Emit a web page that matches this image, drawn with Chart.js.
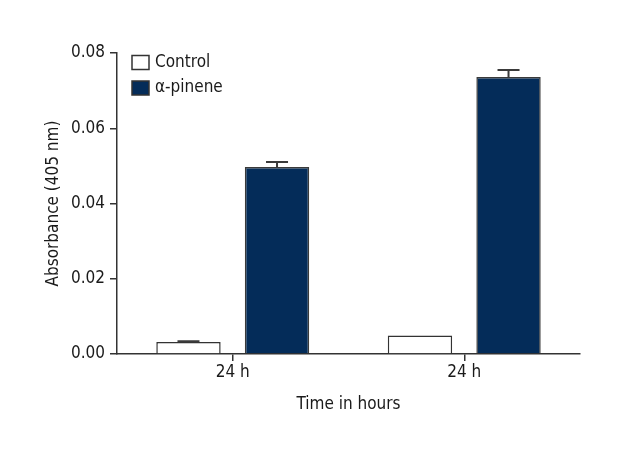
<!DOCTYPE html>
<html>
<head>
<meta charset="utf-8">
<script src="https://cdn.jsdelivr.net/npm/chart.js@4.4.1/dist/chart.umd.min.js"></script>
<style>
  html, body { margin: 0; padding: 0; background: #ffffff; }
  #wrap { width: 620px; height: 460px; }
</style>
</head>
<body>
<div id="wrap"><canvas id="c" width="620" height="460"></canvas></div>
<script>
const categories = ['24 h', '24 h'];
const seriesNames = ['Control', 'α-pinene'];
const controlValues = [0.0032, 0.0049];
const controlErrors = [0.0002, 0.0];
const pineneValues = [0.0497, 0.0736];
const pineneErrors = [0.0013, 0.0019];
const yTicks = [0.00, 0.02, 0.04, 0.06, 0.08];

const FONT = "'DejaVu Sans Condensed', 'Liberation Sans Narrow', 'DejaVu Sans', sans-serif";
const STRETCH = 'condensed';
const FS = 17;
const AXIS = '#333333';
const NAVY = '#042c59';

const errorBars = {
  id: 'errorBars',
  afterDatasetsDraw(chart) {
    const ctx = chart.ctx;
    const y = chart.scales.y;
    chart.data.datasets.forEach((ds, di) => {
      const meta = chart.getDatasetMeta(di);
      meta.data.forEach((bar, i) => {
        const err = ds.errors[i];
        if (!err) return;
        const v = ds.data[i];
        const yTop = y.getPixelForValue(v + err);
        const yBase = y.getPixelForValue(v);
        ctx.save();
        ctx.strokeStyle = '#3a3a3a';
        ctx.lineWidth = 2;
        ctx.beginPath();
        ctx.moveTo(bar.x, yBase);
        ctx.lineTo(bar.x, yTop);
        ctx.moveTo(bar.x - 11, yTop);
        ctx.lineTo(bar.x + 11, yTop);
        ctx.stroke();
        ctx.restore();
      });
    });
  }
};

const innerLegend = {
  id: 'innerLegend',
  afterDraw(chart) {
    const ctx = chart.ctx;
    const area = chart.chartArea;
    const x0 = area.left + 15;
    const y0 = area.top + 2.5;
    ctx.save();
    ctx.font = STRETCH + ' ' + FS + 'px ' + FONT;
    ctx.textBaseline = 'middle';
    ctx.textAlign = 'left';
    chart.data.datasets.forEach((ds, i) => {
      const by = y0 + i * 25.5;
      ctx.fillStyle = ds.backgroundColor;
      ctx.fillRect(x0, by, 17, 14);
      ctx.strokeStyle = AXIS;
      ctx.lineWidth = 1.5;
      ctx.strokeRect(x0, by, 17, 14);
      ctx.fillStyle = '#1a1a1a';
      ctx.fillText(ds.label, x0 + 23, by + 7);
    });
    ctx.restore();
  }
};

const fontOpt = { family: FONT, size: FS, weight: STRETCH };

new Chart(document.getElementById('c'), {
  type: 'bar',
  data: {
    labels: categories,
    datasets: [
      {
        label: seriesNames[0],
        data: controlValues,
        errors: controlErrors,
        backgroundColor: '#ffffff',
        borderColor: AXIS,
        borderWidth: 1.5,
        categoryPercentage: 0.765,
        barPercentage: 0.727
      },
      {
        label: seriesNames[1],
        data: pineneValues,
        errors: pineneErrors,
        backgroundColor: NAVY,
        borderColor: '#3a3a3a',
        borderWidth: 1.5,
        categoryPercentage: 0.765,
        barPercentage: 0.727
      }
    ]
  },
  options: {
    responsive: false,
    devicePixelRatio: 1,
    animation: false,
    layout: { padding: { left: 40, right: 40, top: 53, bottom: 45 } },
    plugins: {
      legend: { display: false },
      tooltip: { enabled: false }
    },
    scales: {
      x: {
        afterFit(scale) { scale.height = 61; },
        grid: {
          display: true,
          offset: false,
          drawOnChartArea: false,
          drawTicks: true,
          tickLength: 7,
          color: AXIS,
          lineWidth: 1.5
        },
        border: { display: true, color: AXIS, width: 1.5 },
        ticks: {
          color: '#1a1a1a',
          padding: 1,
          font: fontOpt,
          maxRotation: 0,
          autoSkip: false
        },
        title: {
          display: true,
          text: 'Time in hours',
          color: '#1a1a1a',
          font: fontOpt,
          padding: { top: 0, bottom: 0 }
        }
      },
      y: {
        min: 0,
        max: 0.08,
        afterFit(scale) { scale.width = 77; },
        afterBuildTicks(scale) { scale.ticks = yTicks.map(v => ({ value: v })); },
        grid: {
          display: true,
          drawOnChartArea: false,
          drawTicks: true,
          tickLength: 7,
          color: AXIS,
          lineWidth: 1.5
        },
        border: { display: true, color: AXIS, width: 1.5 },
        ticks: {
          color: '#1a1a1a',
          padding: 5,
          font: fontOpt,
          callback: v => Number(v).toFixed(2)
        },
        title: {
          display: true,
          text: 'Absorbance (405 nm)',
          color: '#1a1a1a',
          font: fontOpt,
          padding: { top: 3, bottom: 0 }
        }
      }
    }
  },
  plugins: [errorBars, innerLegend]
});
</script>
</body>
</html>
